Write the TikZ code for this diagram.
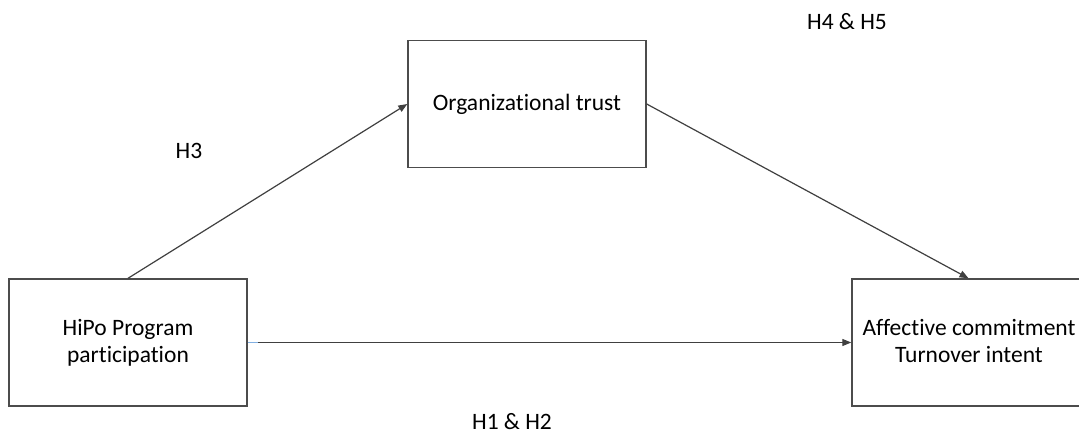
\documentclass[tikz,border=0pt]{standalone}
\usepackage{fontspec}
\setmainfont[Ligatures={NoCommon}]{Carlito}
\usetikzlibrary{arrows.meta}
\begin{document}
\begin{tikzpicture}[x=1pt,y=-1pt,
  box/.style={draw=black!70,line width=1.4pt,fill=white,minimum width=238pt,minimum height=127pt,inner sep=0pt,align=center,font=\fontsize{23.5}{27}\selectfont},
  conn/.style={draw=black!75,line width=1.2pt,-{Triangle[length=9pt,width=7pt]}},
  lbl/.style={font=\fontsize{23.5}{27}\selectfont,text=black}]
\useasboundingbox (0,0) rectangle (1079,435);
\fill[white] (0,0) rectangle (1079,435);
\node[box] (trust) at (527,104) {Organizational trust};
\node[box] (hipo) at (128,342.5) {HiPo Program\\participation};
\node[box,minimum width=233pt] (aff) at (968.5,342.5) {};
\node[font=\fontsize{23.5}{27}\selectfont,align=center] (afftext) at (969,341) {Affective commitment\\Turnover intent};
\draw[conn] (hipo.north) -- (trust.west);
\draw[conn] (trust.east) -- (aff.north);
\draw[conn] (hipo.east) -- (aff.west);
\draw[draw=cyan!60!blue!50,line width=1.2pt] (hipo.east) -- ++(10,0);
\node[lbl] (h3) at (189,151) {H3};
\node[lbl] (h45) at (847,22) {H4 \& H5};
\node[lbl] (h12) at (512,422) {H1 \& H2};
\end{tikzpicture}
\end{document}
